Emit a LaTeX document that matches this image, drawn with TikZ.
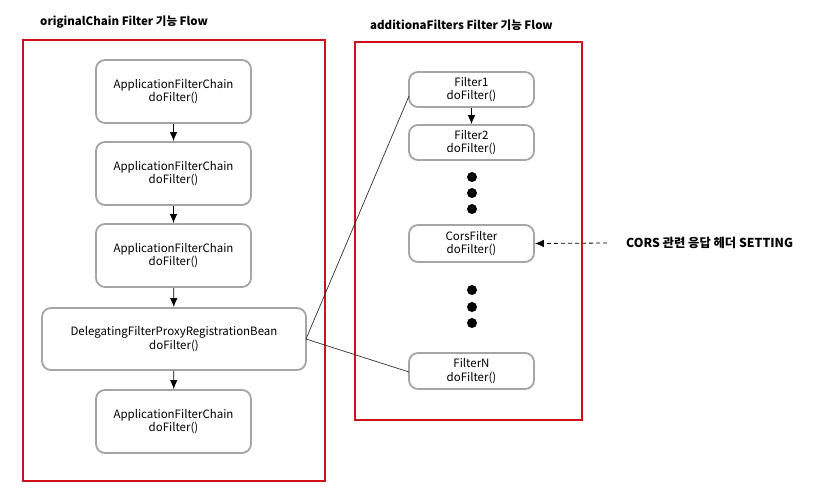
\documentclass[tikz,border=0pt]{standalone}
\usepackage{fontspec}
\setmainfont{Noto Sans CJK KR}
\usetikzlibrary{arrows.meta}
\begin{document}
\begin{tikzpicture}[x=1pt,y=-1pt,
  redframe/.style={draw={rgb,255:red,208;green,16;blue,26}, line width=2pt},
  fbox/.style={draw={rgb,255:red,165;green,165;blue,165}, line width=1.8pt, rounded corners=9pt, align=center, font=\fontsize{11.5}{13.5}\selectfont, inner sep=0pt},
  title/.style={font=\bfseries\fontsize{11.5}{14}\selectfont, anchor=west, inner sep=0pt},
  arr/.style={-{Latex[length=9pt,width=7.5pt]}, line width=0.8pt},
  dot/.style={circle, fill=black, minimum size=10pt, inner sep=0pt},
  link/.style={line width=0.7pt, draw={rgb,255:red,50;green,50;blue,50}}]
\useasboundingbox (0,0) rectangle (820,500);
\fill[white] (0,0) rectangle (820,500);
% titles
\node[title] (t1) at (40,22) {originalChain Filter 기능 Flow};
\node[title] (t2) at (370,25) {additionaFilters Filter 기능 Flow};
% frames
\draw[redframe] (23,40) rectangle (325,481);
\draw[redframe] (355,42) rectangle (582,420);
% left boxes
\node[fbox, minimum width=155pt, minimum height=63pt] (a1) at (173.5,91.5) {ApplicationFilterChain\\doFilter()};
\node[fbox, minimum width=155pt, minimum height=63pt] (a2) at (173.5,173.5) {ApplicationFilterChain\\doFilter()};
\node[fbox, minimum width=155pt, minimum height=63pt] (a3) at (173.5,255.5) {ApplicationFilterChain\\doFilter()};
\node[fbox, minimum width=264pt, minimum height=62pt] (d) at (174,339) {DelegatingFilterProxyRegistrationBean\\doFilter()};
\node[fbox, minimum width=155pt, minimum height=63pt] (a5) at (173.5,421.5) {ApplicationFilterChain\\doFilter()};
\draw[arr] (a1) -- (a2);
\draw[arr] (a2) -- (a3);
\draw[arr] (a3) -- (d);
\draw[arr] (d) -- (a5);
% right boxes
\node[fbox, minimum width=125pt, minimum height=35pt] (f1) at (471.5,89.5) {Filter1\\doFilter()};
\node[fbox, minimum width=125pt, minimum height=35pt] (f2) at (471.5,142.5) {Filter2\\doFilter()};
\node[fbox, minimum width=125pt, minimum height=37pt] (cf) at (471.5,243.5) {CorsFilter\\doFilter()};
\node[fbox, minimum width=125pt, minimum height=36pt] (fn) at (471.5,371) {FilterN\\doFilter()};
\draw[arr] (f1) -- (f2);
\node[dot] (p1) at (472,177) {};
\node[dot] (p2) at (472,193) {};
\node[dot] (p3) at (472,209) {};
\node[dot] (q1) at (472,290) {};
\node[dot] (q2) at (472,307) {};
\node[dot] (q3) at (472,323) {};
% links
\coordinate (dr) at (306,339);
\draw[link] (dr) -- (409,96);
\draw[link] (dr) -- (409,372);
% cors note
\node[title, font=\bfseries\fontsize{12.3}{14}\selectfont] (note) at (626,243) {CORS 관련 응답 헤더 SETTING};
\coordinate (ns) at (607,243);
\draw[arr, dashed, dash pattern=on 4pt off 3pt] (ns) -- (cf.east);
\end{tikzpicture}
\end{document}
